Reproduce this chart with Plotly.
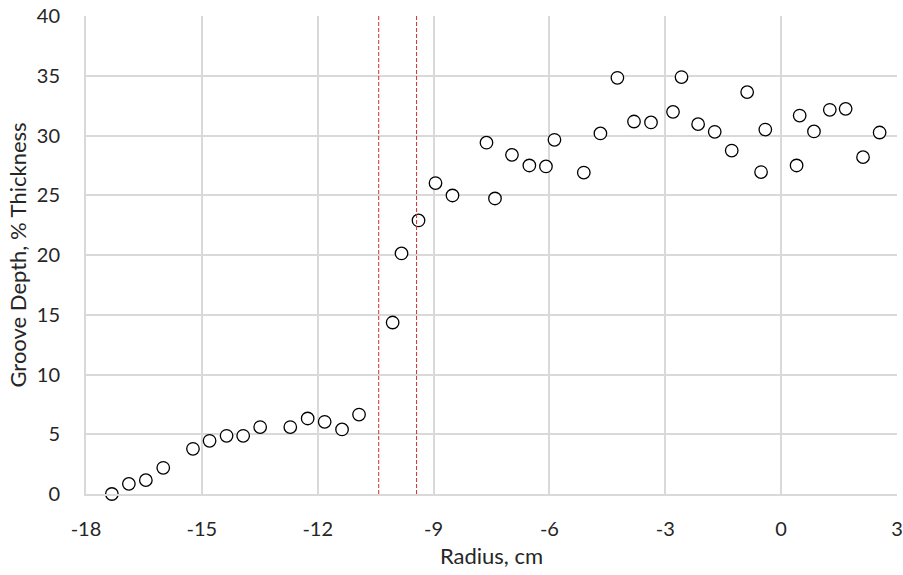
import plotly.graph_objects as go

radius_cm = [-17.33, -16.89, -16.45, -16.0, -15.23, -14.80, -14.36, -13.93, -13.49, -12.71,
             -12.26, -11.82, -11.37, -10.93, -10.06, -9.83, -9.39, -8.95, -8.51, -7.63,
             -7.41, -6.97, -6.52, -6.09, -5.87, -5.11, -4.68, -4.24, -3.81, -3.37,
             -2.80, -2.58, -2.15, -1.72, -1.28, -0.88, -0.52, -0.41, 0.40, 0.48,
             0.85, 1.26, 1.67, 2.12, 2.55]
groove_depth_pct = [0.0, 0.85, 1.16, 2.19, 3.78, 4.45, 4.87, 4.87, 5.60, 5.60,
                    6.32, 6.04, 5.40, 6.65, 14.35, 20.13, 22.89, 26.02, 24.98, 29.40,
                    24.73, 28.38, 27.49, 27.41, 29.64, 26.90, 30.17, 34.83, 31.17, 31.09,
                    31.98, 34.89, 30.95, 30.31, 28.74, 33.63, 26.94, 30.50, 27.49, 31.67,
                    30.34, 32.15, 32.23, 28.19, 30.25]
boundary_x = [-10.42, -9.44]
x_ticks = [-18, -15, -12, -9, -6, -3, 0, 3]
y_ticks = [0, 5, 10, 15, 20, 25, 30, 35, 40]

FONT = "Lato, 'Open Sans', sans-serif"
GRID = "#d9d9d9"
TXT = "#262626"
TICK_FS = 20
TITLE_FS = 22

fig = go.Figure()
fig.add_trace(go.Scatter(
    x=radius_cm, y=groove_depth_pct, mode="markers",
    marker=dict(symbol="circle", size=12.5, color="white",
                line=dict(color="black", width=1.3)),
    cliponaxis=False, showlegend=False,
))

for bx in boundary_x:
    fig.add_shape(type="line", xref="x", yref="y", x0=bx, x1=bx, y0=0, y1=40,
                  line=dict(color="#c83030", width=1, dash="4px,2px"), layer="above")

fig.update_layout(
    width=903, height=575,
    margin=dict(l=86, r=6, t=16, b=81, autoexpand=False),
    paper_bgcolor="white", plot_bgcolor="white",
    font=dict(family=FONT, size=TICK_FS, color=TXT),
)
fig.update_xaxes(
    range=[-18, 3], tickvals=x_ticks, ticktext=[str(v) for v in x_ticks],
    automargin=False,
    showgrid=True, gridcolor=GRID, gridwidth=1.5, zeroline=False,
    showline=True, linecolor=GRID, linewidth=2,
    ticks="", ticklabelstandoff=16,
    title=dict(text="Radius, cm", font=dict(size=TITLE_FS, family=FONT, color=TXT), standoff=10),
    tickfont=dict(size=TICK_FS, family=FONT, color=TXT),
)
fig.update_yaxes(
    range=[0, 40], tickvals=y_ticks, ticktext=[str(v) for v in y_ticks],
    automargin=False,
    showgrid=True, gridcolor=GRID, gridwidth=1.5, zeroline=False,
    showline=True, linecolor=GRID, linewidth=2,
    ticks="", ticklabelstandoff=20,
    title=dict(text="Groove Depth, % Thickness", font=dict(size=TITLE_FS, family=FONT, color=TXT), standoff=4),
    tickfont=dict(size=TICK_FS, family=FONT, color=TXT),
)

fig.write_html("out.html", config={"displayModeBar": False},
               post_script="document.body.style.margin='0';document.body.style.overflow='hidden';")
